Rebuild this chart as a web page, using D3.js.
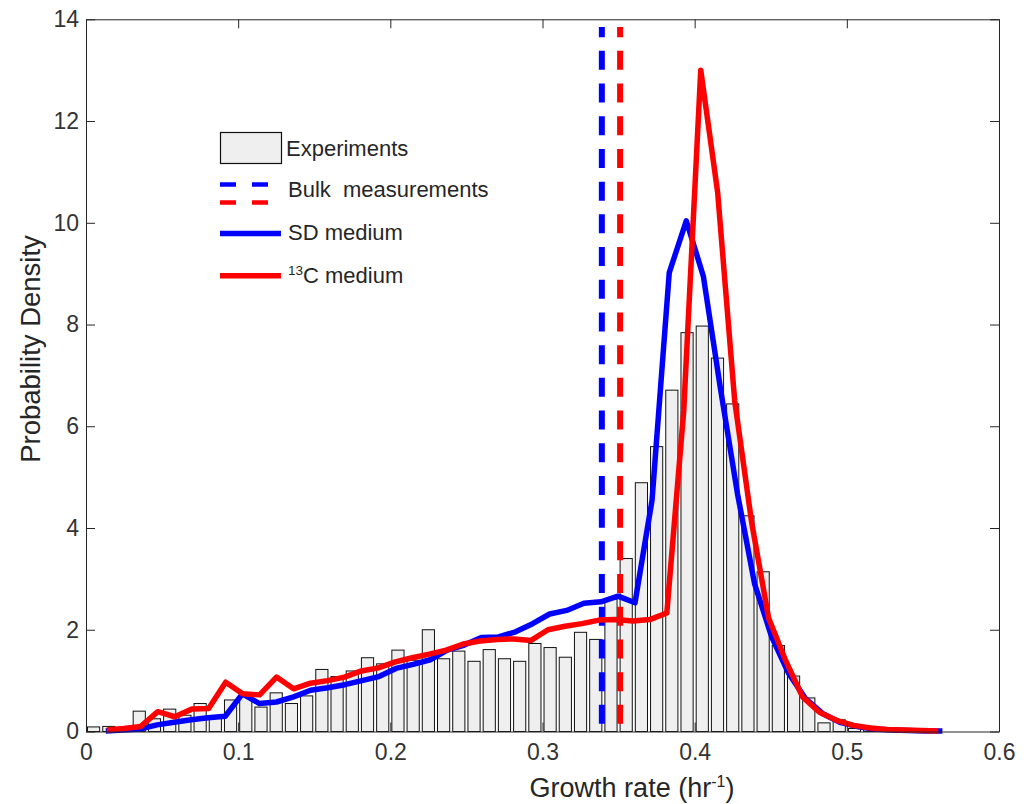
<!DOCTYPE html>
<html>
<head>
<meta charset="utf-8">
<script src="https://cdn.jsdelivr.net/npm/d3@7"></script>
<style>
  body { margin: 0; background: #fff; }
  text { font-family: "Liberation Sans", Arial, Helvetica, sans-serif; }
</style>
</head>
<body>
<svg id="chart" width="1035" height="804"></svg>
<script>
// Measured single-cell growth rates: histogram with 0.01 hr^-1 bins (bin centres)
const binCenters = [0.005, 0.015, 0.025, 0.035, 0.045, 0.055, 0.065, 0.075, 0.085, 0.095,
  0.105, 0.115, 0.125, 0.135, 0.145, 0.155, 0.165, 0.175, 0.185, 0.195,
  0.205, 0.215, 0.225, 0.235, 0.245, 0.255, 0.265, 0.275, 0.285, 0.295,
  0.305, 0.315, 0.325, 0.335, 0.345, 0.355, 0.365, 0.375, 0.385, 0.395,
  0.405, 0.415, 0.425, 0.435, 0.445, 0.455, 0.465, 0.475, 0.485, 0.495,
  0.505, 0.515];
const binDensity = [0.09, 0.10, 0.00, 0.40, 0.25, 0.44, 0.32, 0.55, 0.28, 0.62,
  0.72, 0.48, 0.76, 0.55, 0.70, 1.22, 1.08, 1.19, 1.45, 1.33,
  1.60, 1.40, 2.00, 1.43, 1.58, 1.38, 1.61, 1.43, 1.38, 1.73,
  1.65, 1.46, 1.95, 1.81, 2.60, 3.40, 4.89, 5.60, 6.71, 7.84,
  7.97, 7.34, 6.44, 4.24, 3.14, 1.69, 1.09, 0.66, 0.17, 0.23,
  0.06, 0.10];

// Model prediction, SD medium
const sdX = [0.0130, 0.0242, 0.0354, 0.0467, 0.0579, 0.0691, 0.0803, 0.0915, 0.1028, 0.1140,
  0.1252, 0.1364, 0.1476, 0.1589, 0.1701, 0.1813, 0.1925, 0.2037, 0.2150, 0.2262,
  0.2374, 0.2486, 0.2598, 0.2711, 0.2823, 0.2935, 0.3047, 0.3159, 0.3272, 0.3384,
  0.3496, 0.3608, 0.3720, 0.3833, 0.3945, 0.4057, 0.4169, 0.4281, 0.4394, 0.4506,
  0.4618, 0.4730, 0.4842, 0.4955, 0.5067, 0.5179, 0.5291, 0.5403, 0.5516, 0.5628];
const sdY = [0.01, 0.03, 0.05, 0.13, 0.18, 0.23, 0.27, 0.30, 0.74, 0.55,
  0.58, 0.68, 0.81, 0.86, 0.92, 1.00, 1.08, 1.24, 1.32, 1.41,
  1.60, 1.70, 1.85, 1.86, 1.96, 2.12, 2.31, 2.38, 2.52, 2.55,
  2.66, 2.53, 4.55, 9.02, 10.04, 8.95, 6.75, 4.68, 2.90, 1.86,
  1.14, 0.64, 0.35, 0.18, 0.10, 0.05, 0.03, 0.02, 0.01, 0.01];

// Model prediction, 13C medium
const c13X = [0.0137, 0.0249, 0.0360, 0.0472, 0.0583, 0.0695, 0.0806, 0.0918, 0.1029, 0.1141,
  0.1252, 0.1364, 0.1475, 0.1587, 0.1698, 0.1810, 0.1921, 0.2033, 0.2144, 0.2256,
  0.2367, 0.2479, 0.2590, 0.2702, 0.2813, 0.2925, 0.3036, 0.3148, 0.3259, 0.3371,
  0.3482, 0.3594, 0.3705, 0.3817, 0.3928, 0.4040, 0.4151, 0.4263, 0.4374, 0.4486,
  0.4597, 0.4709, 0.4820, 0.4932, 0.5043, 0.5155, 0.5266, 0.5378, 0.5489, 0.5601];
const c13Y = [0.03, 0.06, 0.10, 0.39, 0.29, 0.44, 0.45, 0.97, 0.74, 0.72,
  1.07, 0.84, 0.95, 1.00, 1.07, 1.19, 1.25, 1.37, 1.45, 1.52,
  1.60, 1.72, 1.78, 1.81, 1.82, 1.79, 2.00, 2.07, 2.12, 2.19,
  2.20, 2.17, 2.20, 2.33, 6.30, 13.00, 10.60, 6.50, 4.12, 2.23,
  1.40, 0.68, 0.38, 0.22, 0.12, 0.07, 0.04, 0.03, 0.02, 0.01];

// Bulk growth-rate measurements (SD, 13C) drawn as vertical dashed lines
const bulkRates = [0.339, 0.351];
const bulkColors = ["#0000ff", "#ff0000"];
const bulkSpan = [0.15, 13.85];

const xTicks = [0, 0.1, 0.2, 0.3, 0.4, 0.5, 0.6];
const yTicks = [0, 2, 4, 6, 8, 10, 12, 14];

const axisColor = "#262626";
const svg = d3.select("#chart");
const x = d3.scaleLinear().domain([0, 0.6]).range([86, 999]);
const y = d3.scaleLinear().domain([0, 14]).range([731.5, 19.3]);

// Histogram bars (bar width = 0.8 of the bin)
const barW = (x(0.01) - x(0)) * 0.8;
const bars = binCenters.map((c, i) => ({ c, v: binDensity[i] })).filter(d => d.v > 0);
svg.append("g")
  .selectAll("rect")
  .data(bars)
  .join("rect")
  .attr("x", d => x(d.c) - barW / 2)
  .attr("width", barW)
  .attr("y", d => y(d.v))
  .attr("height", d => y(0) - y(d.v))
  .attr("fill", "#efefef")
  .attr("stroke", "#111")
  .attr("stroke-width", 1);

// Bulk measurement lines
svg.append("g")
  .selectAll("line")
  .data(bulkRates)
  .join("line")
  .attr("x1", d => x(d)).attr("x2", d => x(d))
  .attr("y1", y(bulkSpan[0])).attr("y2", y(bulkSpan[1]))
  .attr("stroke", (d, i) => bulkColors[i])
  .attr("stroke-width", 6)
  .attr("stroke-dasharray", "19,13.7");

// Model curves
const line = d3.line().x(d => x(d[0])).y(d => y(d[1]));
svg.append("path")
  .datum(sdX.map((v, i) => [v, sdY[i]]))
  .attr("d", line)
  .attr("fill", "none").attr("stroke", "#0000ff")
  .attr("stroke-width", 5.5).attr("stroke-linejoin", "round");
svg.append("path")
  .datum(c13X.map((v, i) => [v, c13Y[i]]))
  .attr("d", line)
  .attr("fill", "none").attr("stroke", "#ff0000")
  .attr("stroke-width", 5.5).attr("stroke-linejoin", "round");

// Axes box with inward ticks
const styleAxis = g => {
  g.selectAll("path.domain").attr("stroke", axisColor).attr("stroke-width", 1);
  g.selectAll(".tick line").attr("stroke", axisColor);
  g.selectAll(".tick text").attr("fill", "#333").attr("font-size", 23)
    .attr("font-family", "\"Liberation Sans\", Arial, sans-serif");
};
const fmt = d => String(d);
svg.append("g").attr("transform", `translate(0,${y(0)})`)
  .call(d3.axisBottom(x).tickValues(xTicks).tickSize(-9).tickSizeOuter(0).tickPadding(12).tickFormat(fmt))
  .call(styleAxis);
svg.append("g").attr("transform", `translate(0,${y(14)})`)
  .call(d3.axisTop(x).tickValues(xTicks).tickSize(-9).tickSizeOuter(0).tickFormat(""))
  .call(styleAxis);
svg.append("g").attr("transform", `translate(${x(0)},0)`)
  .call(d3.axisLeft(y).tickValues(yTicks).tickSize(-9).tickSizeOuter(0).tickPadding(7).tickFormat(fmt))
  .call(styleAxis);
svg.append("g").attr("transform", `translate(${x(0.6)},0)`)
  .call(d3.axisRight(y).tickValues(yTicks).tickSize(-9).tickSizeOuter(0).tickFormat(""))
  .call(styleAxis);
svg.selectAll(".domain").raise();

// Axis labels
svg.append("text")
  .attr("transform", "translate(40,349) rotate(-90)")
  .attr("text-anchor", "middle")
  .attr("font-size", 27.5)
  .attr("fill", "#262626")
  .text("Probability Density");

const xl = svg.append("text")
  .attr("x", 632).attr("y", 797)
  .attr("text-anchor", "middle")
  .attr("font-size", 27)
  .attr("fill", "#262626");
xl.append("tspan").text("Growth rate (hr");
xl.append("tspan").attr("font-size", 16).attr("dy", -10).text("-1");
xl.append("tspan").attr("dy", 10).text(")");

// Legend
const lg = svg.append("g").attr("font-size", 22).attr("fill", "#262626");
lg.append("rect").attr("x", 220.5).attr("y", 132.5).attr("width", 61).attr("height", 31)
  .attr("fill", "#efefef").attr("stroke", "#111").attr("stroke-width", 1.2);
lg.append("text").attr("x", 286).attr("y", 156).text("Experiments");

lg.append("line").attr("x1", 220).attr("x2", 281).attr("y1", 184.5).attr("y2", 184.5)
  .attr("stroke", "#0000ff").attr("stroke-width", 4.5).attr("stroke-dasharray", "16,16");
lg.append("line").attr("x1", 220).attr("x2", 281).attr("y1", 202.5).attr("y2", 202.5)
  .attr("stroke", "#ff0000").attr("stroke-width", 4.5).attr("stroke-dasharray", "16,16");
lg.append("text").attr("x", 288).attr("y", 197).attr("xml:space", "preserve").text("Bulk  measurements");

lg.append("line").attr("x1", 220).attr("x2", 281).attr("y1", 233.5).attr("y2", 233.5)
  .attr("stroke", "#0000ff").attr("stroke-width", 5.5);
lg.append("text").attr("x", 288).attr("y", 239.5).text("SD medium");

lg.append("line").attr("x1", 220).attr("x2", 281).attr("y1", 275.7).attr("y2", 275.7)
  .attr("stroke", "#ff0000").attr("stroke-width", 5.5);
const lt = lg.append("text").attr("x", 288).attr("y", 282.7);
lt.append("tspan").attr("font-size", 13.5).attr("dy", -8).text("13");
lt.append("tspan").attr("dy", 8).text("C medium");
</script>
</body>
</html>
